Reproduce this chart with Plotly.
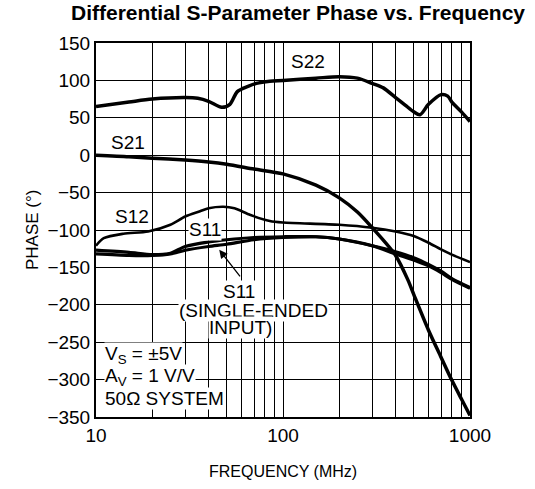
import math
import plotly.graph_objects as go

# Frequency (MHz) and phase (degrees) for each S-parameter trace
s22_freq = [10, 15, 20, 30, 35, 40, 47, 52, 57, 65, 72, 85, 100, 150, 200, 250, 300, 344, 400, 450, 500, 540, 600, 700, 760, 800, 900, 1000]
s22_phase = [65, 71, 75, 77, 76, 72, 64, 68, 85, 92, 96, 99, 100, 103, 105, 103, 96, 90, 77, 67, 58, 54, 68, 81, 79, 71, 58, 45]

s21_freq = [10, 15, 20, 30, 40, 50, 70, 100, 150, 200, 250, 300, 400, 466, 500, 600, 700, 800, 900, 1000]
s21_phase = [0, -2, -4, -6.5, -9, -12, -18.5, -25, -40, -57, -76, -97, -134, -167, -186, -234, -270, -301, -326, -348]

s12_freq = [10, 11, 14, 19, 25, 30, 36, 40, 48, 55, 67, 85, 100, 200, 300, 400, 500, 600, 700, 800, 1000]
s12_phase = [-121, -111, -105, -102, -93, -82, -75, -71, -69, -71, -80, -88, -90, -93, -97, -102, -108, -117, -126, -133, -143]

s11_freq = [10, 15, 20, 25, 30, 40, 50, 70, 100, 150, 200, 300, 400, 500, 600, 700, 800, 1000]
s11_phase = [-127, -130, -133, -131, -122, -116, -113, -110, -109, -109, -112, -121, -132, -140, -148, -157, -166, -178]

s11se_freq = [10, 15, 20, 25, 30, 40, 50, 70, 100, 150, 200, 300, 400, 500, 600, 700, 800, 1000]
s11se_phase = [-132, -134, -134, -132, -127, -122, -119, -113, -110, -109, -112, -121, -129, -137, -146, -155, -165, -177]

# Decade labels on the log frequency axis; every integer multiple gets a grid line
x_decades = [10, 100, 1000]
x_grid = [m * d for d in (10, 100) for m in range(2, 10)]
y_ticks = list(range(-350, 151, 50))

FONT = "Liberation Sans, Arial, sans-serif"

fig = go.Figure()
traces = [
    (s22_freq, s22_phase, 3.5),
    (s21_freq, s21_phase, 3.5),
    (s12_freq, s12_phase, 2.6),
    (s11_freq, s11_phase, 3.2),
    (s11se_freq, s11se_phase, 3.2),
]
for fx, py, w in traces:
    fig.add_trace(go.Scatter(x=fx, y=py, mode="lines",
                             line=dict(color="black", width=w, shape="spline", smoothing=0.8),
                             showlegend=False, hoverinfo="skip"))

L = lambda f: math.log10(f)

annots = [
    dict(x=L(136), y=125, text="S22"),
    dict(x=L(14.8), y=17, text="S21"),
    dict(x=L(15.5), y=-82, text="S12"),
    dict(x=L(38.3), y=-99, text="S11", bgcolor="white"),
    dict(x=L(58.2), y=-182, text="S11", bgcolor="white"),
    dict(x=L(69.2), y=-208, text="(SINGLE-ENDED", bgcolor="white"),
    dict(x=L(59.6), y=-231, text="INPUT)", bgcolor="white"),
]
for a in annots:
    fig.add_annotation(xref="x", yref="y", showarrow=False,
                       font=dict(family=FONT, size=19, color="black"),
                       borderpad=0, **a)

# Arrow pointing at the single-ended S11 trace
fig.add_annotation(xref="x", yref="y", x=L(45.6), y=-126.5, text="",
                   showarrow=True, arrowhead=2, arrowsize=1.3, arrowwidth=1.3,
                   arrowcolor="black", ax=22, ay=28)

# Test condition notes
for txt, yv in [("V<sub>S</sub> = ±5V", -267), ("A<sub>V</sub> = 1 V/V", -296.5), ("50Ω SYSTEM", -325)]:
    fig.add_annotation(xref="paper", yref="y", x=0.022, y=yv, xanchor="left",
                       text=txt, showarrow=False, bgcolor="white", borderpad=0,
                       font=dict(family=FONT, size=19, color="black"))

fig.add_annotation(xref="paper", yref="paper", x=(32 - 96) / 374, y=0.5,
                   xanchor="center", yanchor="middle", text="PHASE (°)",
                   textangle=-90, showarrow=False,
                   font=dict(family=FONT, size=17, color="black"))
fig.add_annotation(xref="paper", yref="paper", x=0.5, y=-0.145, yanchor="middle",
                   text="FREQUENCY (MHz)", showarrow=False,
                   font=dict(family=FONT, size=16, color="black"))

fig.update_layout(
    width=535, height=489,
    margin=dict(l=96, r=65, t=43, b=72),
    paper_bgcolor="white", plot_bgcolor="white",
    title=dict(text="<b>Differential S-Parameter Phase vs. Frequency</b>",
               x=298 / 535, xanchor="center", y=1 - 13 / 489, yanchor="middle",
               font=dict(family=FONT, size=21, color="black")),
    xaxis=dict(type="log", range=[1, 3], tickvals=x_decades,
               showgrid=True, gridcolor="black", gridwidth=1.3,
               minor=dict(tickvals=x_grid, showgrid=True, gridcolor="black",
                          gridwidth=1.3, ticks=""),
               showline=True, linecolor="black", linewidth=2, mirror=True,
               ticks="", zeroline=False,
               tickfont=dict(family=FONT, size=19, color="black")),
    yaxis=dict(range=[-350, 150], tickvals=y_ticks,
               showgrid=True, gridcolor="black", gridwidth=1.3,
               showline=True, linecolor="black", linewidth=2, mirror=True,
               ticks="", zeroline=False,
               tickfont=dict(family=FONT, size=19, color="black")),
)

fig.write_html("out.html")
